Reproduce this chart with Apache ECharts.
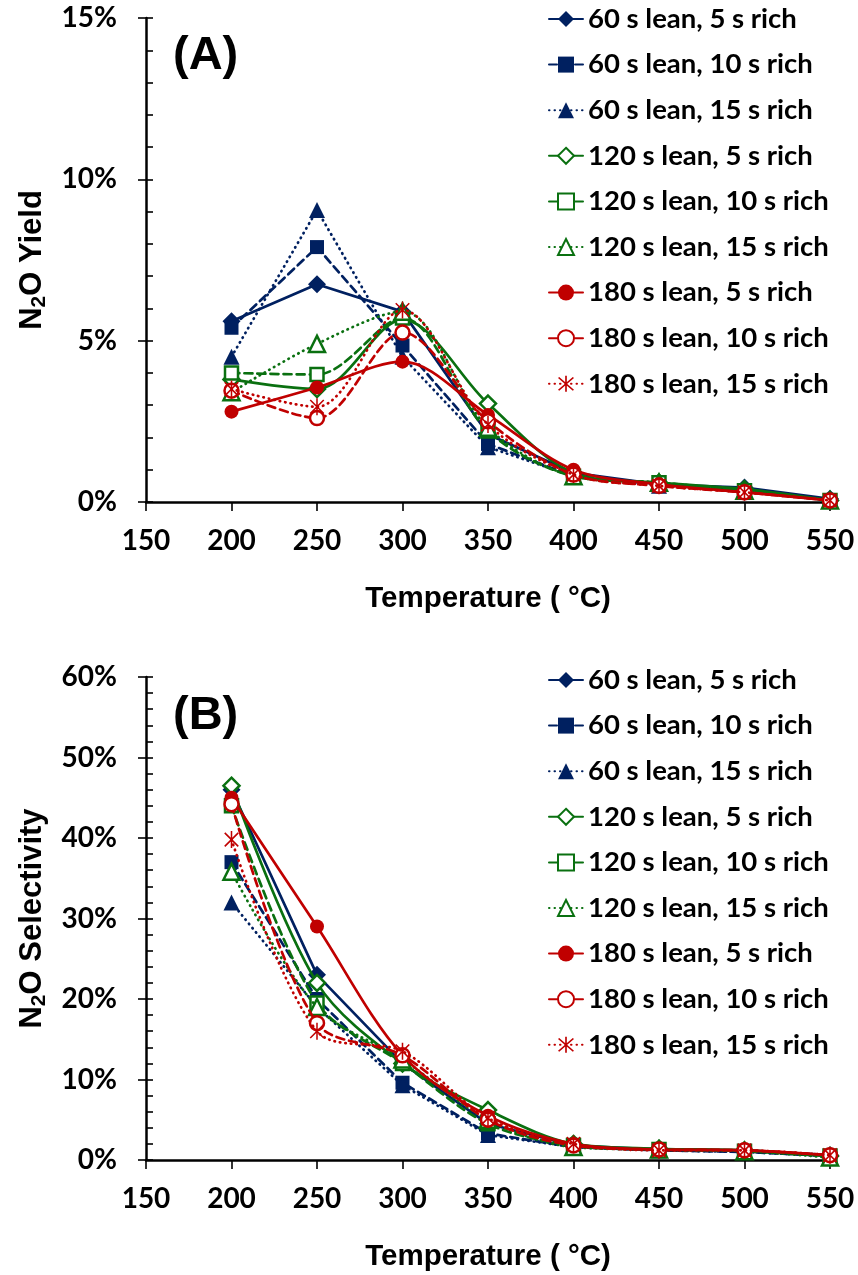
<!DOCTYPE html>
<html><head><meta charset="utf-8">
<script src="https://cdn.jsdelivr.net/npm/echarts@6/dist/echarts.min.js"></script>
<style>html,body{margin:0;padding:0;background:#fff}#c{width:858px;height:1275px}</style>
</head><body><div id="c"></div>
<script>
// ---- data ----
const temperatures = [200, 250, 300, 350, 400, 450, 500, 550];
const seriesNames = ['60 s lean, 5 s rich', '60 s lean, 10 s rich', '60 s lean, 15 s rich',
  '120 s lean, 5 s rich', '120 s lean, 10 s rich', '120 s lean, 15 s rich',
  '180 s lean, 5 s rich', '180 s lean, 10 s rich', '180 s lean, 15 s rich'];
// Panel A: N2O yield (%)
const yield_60_5   = [5.6, 6.75, 5.9, 2.1, 0.9, 0.55, 0.45, 0.1];
const yield_60_10  = [5.4, 7.9, 4.85, 1.8, 0.8, 0.55, 0.35, 0.05];
const yield_60_15  = [4.5, 9.05, 4.5, 1.7, 0.8, 0.5, 0.35, 0.05];
const yield_120_5  = [3.8, 3.5, 5.65, 3.05, 0.9, 0.6, 0.4, 0.05];
const yield_120_10 = [4.0, 3.95, 5.7, 2.2, 0.8, 0.6, 0.35, 0.05];
const yield_120_15 = [3.4, 4.9, 5.9, 2.3, 0.8, 0.6, 0.35, 0.05];
const yield_180_5  = [2.8, 3.55, 4.35, 2.7, 1.0, 0.55, 0.3, 0.05];
const yield_180_10 = [3.45, 2.6, 5.25, 2.5, 0.85, 0.5, 0.3, 0.05];
const yield_180_15 = [3.5, 2.95, 5.95, 2.4, 0.85, 0.5, 0.3, 0.05];
// Panel B: N2O selectivity (%)
const sel_60_5   = [46, 23, 12, 4.5, 1.8, 1.3, 1.2, 0.6];
const sel_60_10  = [37, 20, 9.6, 3.3, 1.6, 1.2, 1.0, 0.5];
const sel_60_15  = [32, 19, 9.3, 3.1, 1.6, 1.2, 1.0, 0.5];
const sel_120_5  = [46.5, 22, 12, 6.2, 2.0, 1.4, 1.2, 0.5];
const sel_120_10 = [44, 19.5, 12, 4.5, 1.8, 1.3, 1.1, 0.5];
const sel_120_15 = [35.8, 19, 12.5, 5.0, 1.6, 1.3, 1.1, 0.3];
const sel_180_5  = [45, 29, 13, 5.5, 2.0, 1.3, 1.2, 0.6];
const sel_180_10 = [44.2, 17, 13, 5.0, 1.8, 1.3, 1.2, 0.6];
const sel_180_15 = [39.8, 16, 13.5, 5.2, 2.0, 1.2, 1.2, 0.6];

const yieldData = [yield_60_5, yield_60_10, yield_60_15, yield_120_5, yield_120_10, yield_120_15, yield_180_5, yield_180_10, yield_180_15];
const selData = [sel_60_5, sel_60_10, sel_60_15, sel_120_5, sel_120_10, sel_120_15, sel_180_5, sel_180_10, sel_180_15];

// ---- styles ----
const NAVY = '#002060', GREEN = '#0a7010', RED = '#c00000';
const ASTERISK = 'path://M9.1,0 L10.9,0 L10.9,20 L9.1,20 Z M1.4,2.7 L2.7,1.4 L18.6,17.3 L17.3,18.6 Z M17.3,1.4 L18.6,2.7 L2.7,18.6 L1.4,17.3 Z';
const dashOf = ['solid', [8, 5], [0.5, 5]];
const styles = [
  {c: NAVY, sym: 'diamond', size: 18, open: false, smooth: false},
  {c: NAVY, sym: 'rect', size: 14, open: false, smooth: false},
  {c: NAVY, sym: 'triangle', size: 16, open: false, smooth: false},
  {c: GREEN, sym: 'diamond', size: 16, open: true, smooth: true},
  {c: GREEN, sym: 'rect', size: 13, open: true, smooth: true},
  {c: GREEN, sym: 'triangle', size: 16, open: true, smooth: true},
  {c: RED, sym: 'circle', size: 14, open: false, smooth: true},
  {c: RED, sym: 'circle', size: 14, open: true, smooth: true},
  {c: RED, sym: ASTERISK, size: 17, open: false, smooth: true}
];
const FONT = 'Lato';
const FONT2 = 'Liberation Sans';

function makeSeries(dataArr, axisIdx) {
  return dataArr.map((vals, i) => {
    const s = styles[i];
    return {
      name: seriesNames[i], type: 'line', xAxisIndex: axisIdx, yAxisIndex: axisIdx,
      data: temperatures.map((t, k) => [t, vals[k]]),
      smooth: s.smooth ? 0.32 : false,
      symbol: s.sym, symbolSize: s.size, symbolKeepAspect: true,
      lineStyle: {color: s.c, width: 2.7, type: dashOf[i % 3], cap: 'round'},
      itemStyle: s.open ? {color: '#ffffff', borderColor: s.c, borderWidth: 2.5}
                        : {color: s.c, borderColor: s.c, borderWidth: 0},
      emphasis: {disabled: true}, animation: false, z: 2 + i
    };
  });
}

const axisFont = {fontFamily: FONT, fontWeight: 'bold', fontSize: 28, color: '#000'};
function xAxis(idx) {
  return {
    type: 'value', gridIndex: idx, min: 150, max: 550, interval: 50,
    name: 'Temperature ( °C)', nameLocation: 'middle', nameGap: 82,
    nameTextStyle: {fontFamily: FONT2, fontWeight: 'bold', fontSize: 29.5, color: '#000', verticalAlign: 'top'},
    axisLine: {show: true, onZero: false, lineStyle: {color: '#000', width: 2.5}},
    axisTick: {show: true, length: 9, lineStyle: {color: '#000', width: 1.6}},
    axisLabel: Object.assign({margin: 25}, axisFont),
    splitLine: {show: false}
  };
}
function yAxis(idx, max, interval, nameRich) {
  return {
    type: 'value', gridIndex: idx, position: 'left', min: 0, max: max, interval: interval,
    name: nameRich, nameLocation: 'middle', nameGap: 96,
    nameTextStyle: {rich: {
      a: {fontFamily: FONT2, fontWeight: 'bold', fontSize: 31, color: '#000'},
      b: {fontFamily: FONT2, fontWeight: 'bold', fontSize: 21, color: '#000', verticalAlign: 'bottom', padding: [15, 0, 0, 0]}
    }},
    axisLine: {show: true, lineStyle: {color: '#000', width: 2.5}},
    axisTick: {show: true, length: 8, lineStyle: {color: '#000', width: 1.6}},
    axisLabel: Object.assign({margin: 29, formatter: v => v + '%'}, axisFont),
    splitLine: {show: false}
  };
}
// inner (minor) ticks drawn by a label-less companion axis
function yInner(idx, max, step) {
  return {
    type: 'value', gridIndex: idx, position: 'left', offset: 0, min: 0, max: max, interval: step,
    axisLine: {show: false},
    axisTick: {show: true, inside: true, length: 7, lineStyle: {color: '#000', width: 1.6}},
    axisLabel: {show: false}, splitLine: {show: false}
  };
}
function legend(top) {
  return {
    orient: 'vertical', left: 548, top: top, data: seriesNames,
    itemWidth: 34, itemHeight: 20, itemGap: 15.6, padding: 0,
    textStyle: {fontFamily: FONT, fontWeight: 'bold', fontSize: 27.5, color: '#000', lineHeight: 30},
    selectedMode: false
  };
}

const chart = echarts.init(document.getElementById('c'), null, {renderer: 'canvas'});
chart.setOption({
  backgroundColor: '#fff',
  animation: false,
  title: [
    {text: '(A)', left: 173, top: 33, padding: 0, textStyle: {fontFamily: FONT2, fontWeight: 'bold', fontSize: 47, color: '#000'}},
    {text: '(B)', left: 173, top: 693, padding: 0, textStyle: {fontFamily: FONT2, fontWeight: 'bold', fontSize: 47, color: '#000'}}
  ],
  grid: [
    {left: 146, width: 684, top: 18, height: 484},
    {left: 146, width: 684, top: 677, height: 483}
  ],
  xAxis: [xAxis(0), xAxis(1)],
  yAxis: [
    yAxis(0, 15, 5, '{a|N}{b|2}{a|O Yield}'),
    yAxis(1, 60, 10, '{a|N}{b|2}{a|O Selectivity}'),
    yInner(0, 15, 1),
    yInner(1, 60, 2)
  ],
  legend: [legend(4), legend(665)],
  series: makeSeries(yieldData, 0).concat(makeSeries(selData, 1))
});
</script>
</body></html>
